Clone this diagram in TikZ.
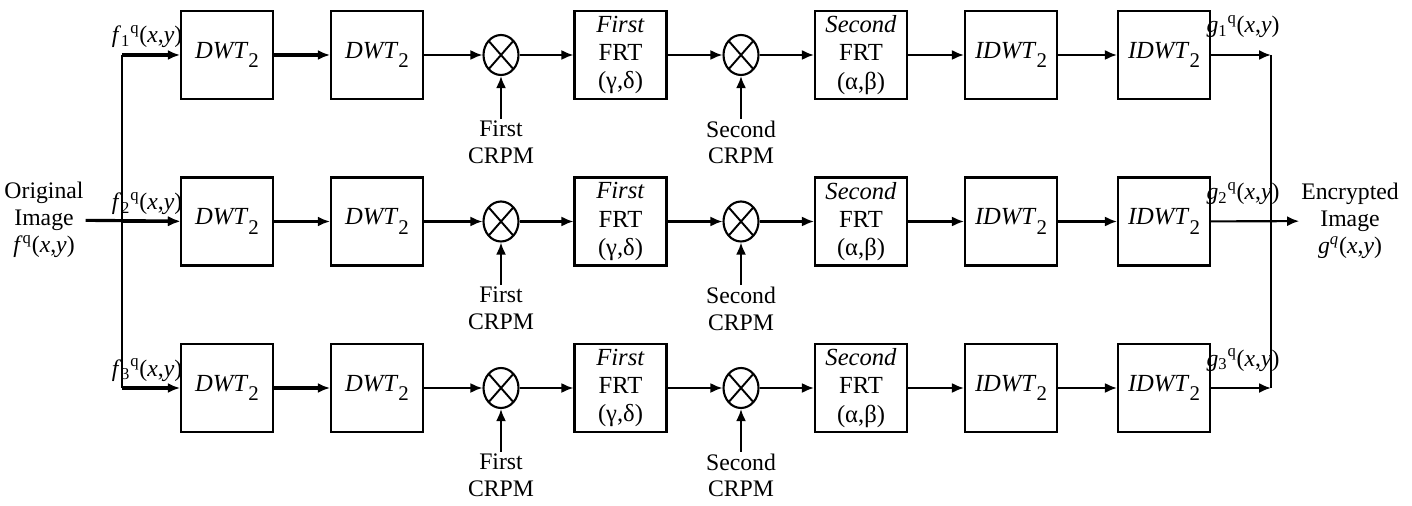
\documentclass[tikz,border=0pt]{standalone}
\usepackage{fontspec}
\setmainfont{Liberation Serif}
\usetikzlibrary{positioning,arrows.meta,shapes.geometric}

\newcommand{\sig}[2]{\textit{#1}\textsubscript{#2}\textsuperscript{q}(\textit{x},\textit{y})}
\newcommand{\lowtwo}{\raisebox{-0.85ex}{\scalebox{0.85}{2}}}

\begin{document}
\begin{tikzpicture}[
    x=0.02cm, y=-0.02cm,
    box/.style={draw, line width=1.2pt, minimum width=1.84cm, minimum height=1.76cm, align=center, inner sep=1pt, font=\fontsize{14}{16}\selectfont},
    mult/.style={draw, ellipse, line width=1.2pt, minimum width=0.7cm, minimum height=0.8cm, inner sep=0pt,
        path picture={\draw[line width=1.1pt] (path picture bounding box.south west) -- (path picture bounding box.north east)
            (path picture bounding box.north west) -- (path picture bounding box.south east);}},
    lbl/.style={align=center, inner sep=1pt, font=\fontsize{13.5}{15.2}\selectfont},
    arrow/.style={-{Latex[length=2.4mm, width=2mm]}, line width=1.2pt},
    thickarrow/.style={arrow, line width=1.8pt}
]
\useasboundingbox (0,0) rectangle (1412,506);

% three parallel channels
\foreach \r/\y in {1/55, 2/221.5, 3/388} {
    \coordinate (split\r) at (122,\y);
    \coordinate (join\r) at (1271,\y);
    \node[box] (dwtA\r) at (227,\y) {\textit{DWT}\lowtwo};
    \node[box] (dwtB\r) at (377,\y) {\textit{DWT}\lowtwo};
    \node[mult] (mulA\r) at (501,\y) {};
    \node[box] (frtA\r) at (620.5,\y) {\textit{First}\\FRT\\(γ,δ)};
    \node[mult] (mulB\r) at (741,\y) {};
    \node[box] (frtB\r) at (861,\y) {\textit{Second}\\FRT\\(α,β)};
    \node[box] (idwtA\r) at (1011,\y) {\textit{IDWT}\lowtwo};
    \node[box] (idwtB\r) at (1164,\y) {\textit{IDWT}\lowtwo};
    \node[lbl, below=0.85cm of mulA\r] (crpmA\r) {First\\CRPM};
    \node[lbl, below=0.85cm of mulB\r] (crpmB\r) {Second\\CRPM};
    \node[lbl, anchor=base] (fsig\r) at (147,\y-12) {\sig{f}{\r}};
    \node[lbl, anchor=base] (gsig\r) at (1243,\y-22) {\sig{g}{\r}};

    \draw[thickarrow] (split\r) -- (dwtA\r);
    \draw[thickarrow] (dwtA\r) -- (dwtB\r);
    \draw[arrow] (dwtB\r) -- (mulA\r);
    \draw[arrow] (mulA\r) -- (frtA\r);
    \draw[arrow] (frtA\r) -- (mulB\r);
    \draw[arrow] (mulB\r) -- (frtB\r);
    \draw[arrow] (frtB\r) -- (idwtA\r);
    \draw[arrow] (idwtA\r) -- (idwtB\r);
    \draw[arrow] (crpmA\r) -- (mulA\r);
    \draw[arrow] (crpmB\r) -- (mulB\r);
}

% input and output
\node[lbl] (src) at (44,220) {Original\\Image\\\textit{f}\textsuperscript{q}(\textit{x},\textit{y})};
\node[lbl] (dst) at (1350,221) {Encrypted\\Image\\\textit{g}\textsuperscript{\textit{q}}(\textit{x},\textit{y})};
\draw[line width=1.2pt] (split1) -- (split3);
\draw[line width=1.2pt] (join1) -- (join3);
\draw[thickarrow] (src) -- (dwtA2);
\draw[arrow] (idwtB1) -- (join1);
\draw[arrow] (idwtB3) -- (join3);
\draw[arrow] (idwtB2) -- (dst);
\end{tikzpicture}
\end{document}
